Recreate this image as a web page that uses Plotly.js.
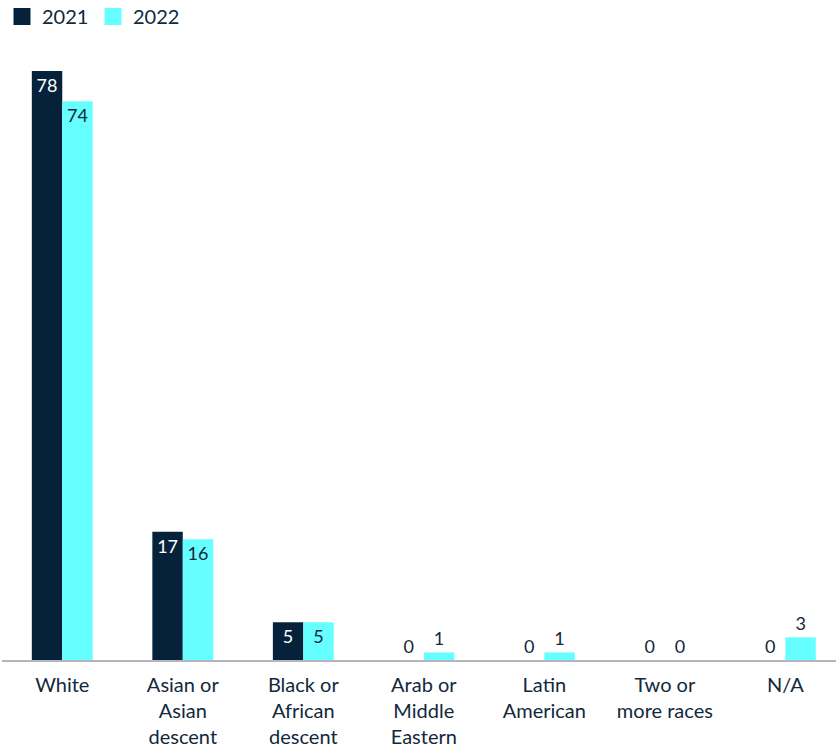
<!DOCTYPE html>
<html><head><meta charset="utf-8">
<script src="https://cdn.plot.ly/plotly-3.0.1.min.js"></script>
<style>body{margin:0;background:#fff}#chart{width:836px;height:749px}</style>
</head><body><div id="chart"></div>
<script>
const categories = ["White","Asian or<br>Asian<br>descent","Black or<br>African<br>descent","Arab or<br>Middle<br>Eastern","Latin<br>American","Two or<br>more races","N/A"];
const values2021 = [78,17,5,0,0,0,0];
const values2022 = [74,16,5,1,1,0,3];
const seriesNames = ["2021","2022"];

const dark = "#06223a", cyan = "#66ffff", textDark = "#12283c";
const font = "Lato, 'Open Sans', sans-serif";
const pos = v => v >= 5 ? "inside" : "outside";

function barTrace(vals, name, color, insideColor, grp){
  return {
    type:"bar", x:categories, y:vals, name:name, showlegend:false, offsetgroup:grp,
    marker:{color:color, line:{width:0}},
    text:vals.map(String), textposition:vals.map(pos),
    insidetextanchor:"end", textangle:0, cliponaxis:false,
    insidetextfont:{family:font,size:18,color:insideColor},
    outsidetextfont:{family:font,size:18,color:textDark},
    hoverinfo:"skip"
  };
}
function legendTrace(name,color,grp){
  return {type:"bar",x:[categories[0]],y:[null],name:name,offsetgroup:grp,
    marker:{color:color,line:{color:color,width:7}},hoverinfo:"skip"};
}
const data = [
  barTrace(values2021, seriesNames[0], dark, "#ffffff", "a"),
  barTrace(values2022, seriesNames[1], cyan, textDark, "b"),
  legendTrace(seriesNames[0], dark, "a"),
  legendTrace(seriesNames[1], cyan, "b")
];
const layout = {
  width:836, height:749,
  margin:{l:2,r:0,t:60,b:89,autoexpand:false},
  paper_bgcolor:"#fff", plot_bgcolor:"#fff",
  barmode:"group", bargap:0.495, bargroupgap:0,
  font:{family:font,size:18,color:textDark},
  showlegend:true,
  legend:{orientation:"h",x:0,xanchor:"left",y:1.105,yanchor:"top",
    font:{family:font,size:20,color:textDark},itemwidth:30,
    traceorder:"normal",entrywidth:46},
  xaxis:{type:"category",range:[-0.5,6.42],showgrid:false,zeroline:false,automargin:false,
    showline:true,linecolor:"#b4b4bc",linewidth:1.5,ticks:"",ticklabelstandoff:6,
    tickfont:{family:font,size:20,color:textDark},fixedrange:true},
  yaxis:{range:[0,79.46],visible:false,showgrid:false,zeroline:false,fixedrange:true}
};
Plotly.newPlot("chart",data,layout,{displayModeBar:false,staticPlot:true});
</script></body></html>
